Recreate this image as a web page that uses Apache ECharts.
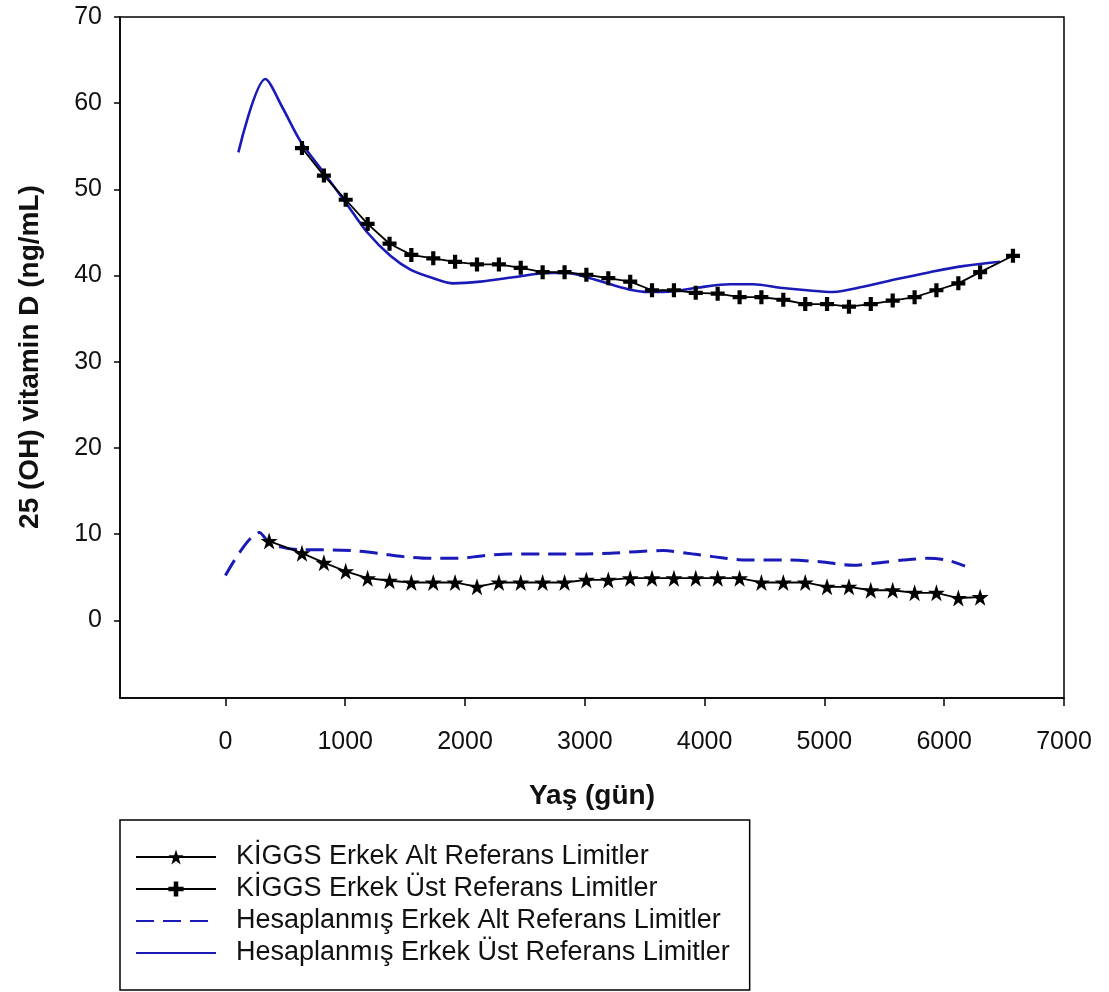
<!DOCTYPE html>
<html>
<head>
<meta charset="utf-8">
<script src="https://cdn.jsdelivr.net/npm/echarts@6/dist/echarts.min.js"></script>
<style>
html,body{margin:0;padding:0;background:#fff;}
#c{width:1109px;height:992px;}
</style>
</head>
<body>
<div id="c"></div>
<script>
// ---- data ----
const xTicks = [0, 1000, 2000, 3000, 4000, 5000, 6000, 7000];
const yTicks = [0, 10, 20, 30, 40, 50, 60, 70];

const kiggsAltDays = [365, 639, 822, 1004, 1187, 1370, 1552, 1735, 1917, 2100, 2283, 2465, 2648, 2831, 3013, 3196, 3379, 3561, 3744, 3926, 4109, 4292, 4474, 4657, 4840, 5022, 5205, 5387, 5570, 5753, 5935, 6118, 6300];
const kiggsAltVals = [9.2, 7.8, 6.7, 5.7, 4.9, 4.6, 4.4, 4.4, 4.4, 3.9, 4.4, 4.4, 4.4, 4.4, 4.7, 4.7, 4.9, 4.9, 4.9, 4.9, 4.9, 4.9, 4.4, 4.4, 4.4, 3.9, 3.9, 3.5, 3.5, 3.2, 3.2, 2.6, 2.7];

const kiggsUstDays = [639, 822, 1004, 1187, 1370, 1552, 1735, 1917, 2100, 2283, 2465, 2648, 2831, 3013, 3196, 3379, 3561, 3744, 3926, 4109, 4292, 4474, 4657, 4840, 5022, 5205, 5387, 5570, 5753, 5935, 6118, 6300, 6574];
const kiggsUstVals = [54.8, 51.6, 48.8, 46.0, 43.7, 42.4, 42.0, 41.6, 41.3, 41.3, 40.9, 40.4, 40.4, 40.1, 39.7, 39.3, 38.3, 38.3, 38.0, 37.9, 37.5, 37.5, 37.2, 36.7, 36.7, 36.4, 36.7, 37.1, 37.5, 38.3, 39.1, 40.4, 42.3];

const hesAltDays = [0, 284, 375, 626, 793, 1043, 1268, 1485, 1710, 1936, 2153, 2378, 2653, 2937, 3212, 3654, 3855, 4071, 4355, 4689, 4964, 5239, 5465, 5657, 5857, 6024, 6174];
const hesAltVals = [5.2, 10.2, 8.9, 8.2, 8.2, 8.1, 7.8, 7.4, 7.2, 7.2, 7.5, 7.7, 7.7, 7.7, 7.8, 8.1, 7.8, 7.4, 7.0, 7.0, 6.8, 6.4, 6.7, 7.0, 7.2, 7.0, 6.3];

const hesUstDays = [108, 334, 476, 626, 818, 1018, 1185, 1377, 1544, 1735, 1902, 2127, 2403, 2686, 2853, 3045, 3237, 3404, 3521, 3738, 3938, 4213, 4405, 4630, 4855, 5072, 5323, 5606, 5882, 6157, 6466];
const hesUstVals = [54.3, 62.8, 59.5, 55.6, 52.0, 48.2, 45.0, 42.3, 40.7, 39.7, 39.1, 39.3, 39.8, 40.3, 40.3, 39.7, 38.9, 38.3, 38.1, 38.2, 38.6, 39.0, 39.0, 38.6, 38.3, 38.1, 38.7, 39.6, 40.4, 41.1, 41.6];

const seriesNames = [
  'KİGGS Erkek Alt Referans Limitler',
  'KİGGS Erkek Üst Referans Limitler',
  'Hesaplanmış Erkek Alt Referans Limitler',
  'Hesaplanmış Erkek Üst Referans Limitler'
];
const xTitle = 'Yaş (gün)';
const yTitle = '25 (OH) vitamin D (ng/mL)';

// ---- helpers ----
const pairs = (xs, ys) => xs.map((x, i) => [x, ys[i]]);
const BLUE = '#1a1ab8';
const FONT = '"Liberation Sans", Arial, sans-serif';
const starPath = 'path://M50,0 L61.8,36.2 L100,36.2 L69.1,58.8 L80.9,95.1 L50,72.7 L19.1,95.1 L30.9,58.8 L0,36.2 L38.2,36.2 Z';
const plusPath = 'path://M35,0 L65,0 L65,35 L100,35 L100,65 L65,65 L65,100 L35,100 L35,65 L0,65 L0,35 L35,35 Z';

const chart = echarts.init(document.getElementById('c'), null, {renderer: 'canvas'});
chart.setOption({
  backgroundColor: '#fff',
  animation: false,
  grid: {left: 120, top: 17, right: 45, bottom: 294, show: true, borderColor: '#000', borderWidth: 1.5, backgroundColor: 'transparent'},
  xAxis: {
    type: 'value', min: -880, max: 7000,
    axisLine: {show: true, onZero: false, lineStyle: {color: '#000', width: 1.5}},
    axisTick: {show: true, length: 8, lineStyle: {color: '#000', width: 1.5}, customValues: xTicks},
    axisLabel: {show: true, customValues: xTicks, formatter: v => String(v), color: '#111', fontFamily: FONT, fontSize: 25, margin: 32},
    splitLine: {show: false}
  },
  yAxis: {
    type: 'value', min: -9, max: 70,
    axisLine: {show: true, onZero: false, lineStyle: {color: '#000', width: 1.5}},
    axisTick: {show: true, length: 6, lineStyle: {color: '#000', width: 1.5}, customValues: yTicks},
    axisLabel: {show: true, customValues: yTicks, formatter: v => String(v), color: '#111', fontFamily: FONT, fontSize: 25, margin: 18},
    splitLine: {show: false}
  },
  legend: {
    orient: 'vertical', left: 120, top: 820,
    padding: [21, 20, 21, 15],
    borderColor: '#000', borderWidth: 1.5, backgroundColor: '#fff',
    itemWidth: 80, itemHeight: 19, itemGap: 0,
    data: seriesNames,
    textStyle: {fontFamily: FONT, fontSize: 27, color: '#111', lineHeight: 32, width: 490, padding: [0, 0, 0, 15]}
  },
  graphic: [
    {type: 'text', x: 592, y: 796, style: {text: xTitle, font: 'bold 28px ' + FONT, fill: '#111', align: 'center', verticalAlign: 'middle'}},
    {type: 'text', x: 30, y: 357, rotation: Math.PI / 2, style: {text: yTitle, font: 'bold 28px ' + FONT, fill: '#111', align: 'center', verticalAlign: 'middle'}}
  ],
  series: [
    {
      name: seriesNames[2], type: 'line', data: pairs(hesAltDays, hesAltVals),
      smooth: 0.3, showSymbol: false, symbol: 'circle',
      lineStyle: {color: BLUE, width: 3, type: [18, 9]}, itemStyle: {color: 'rgba(0,0,0,0)'}, z: 2
    },
    {
      name: seriesNames[3], type: 'line', data: pairs(hesUstDays, hesUstVals),
      smooth: 0.3, showSymbol: false, symbol: 'circle',
      lineStyle: {color: BLUE, width: 2.6}, itemStyle: {color: 'rgba(0,0,0,0)'}, z: 2
    },
    {
      name: seriesNames[0], type: 'line', data: pairs(kiggsAltDays, kiggsAltVals),
      symbol: starPath, symbolSize: 17, showAllSymbol: true,
      lineStyle: {color: '#000', width: 1.8}, itemStyle: {color: '#000'}, z: 3
    },
    {
      name: seriesNames[1], type: 'line', data: pairs(kiggsUstDays, kiggsUstVals),
      symbol: plusPath, symbolSize: 14, showAllSymbol: true,
      lineStyle: {color: '#000', width: 1.8}, itemStyle: {color: '#000'}, z: 3
    }
  ]
});
</script>
</body>
</html>
